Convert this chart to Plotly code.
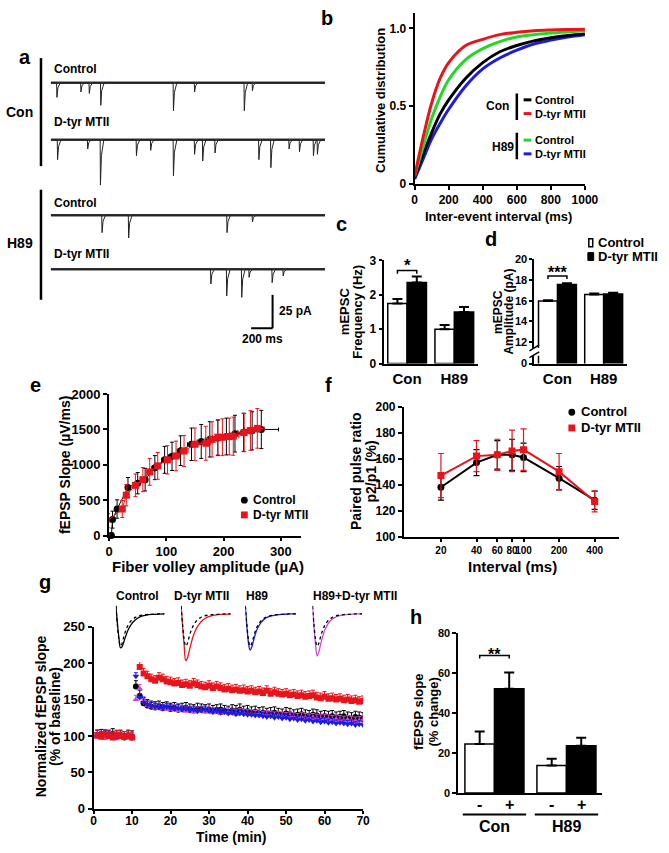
import plotly.graph_objects as go

W, H = 669, 853
FONT = "Liberation Sans, Arial, sans-serif"
RED = "#e8141b"
GREEN = "#22d822"
BLUE = "#1c1ce0"
PINK = "#d244d8"

# ---- a: example mEPSC traces (event time in ms, amplitude in pA)
trace_ms = 2560
con_ctrl_t = [55, 279, 357, 464, 1142, 1339, 1803, 1879]
con_ctrl_amp = [11, 7, 8, 17, 21, 7, 21, 6]
con_dtyr_t = [61, 342, 461, 797, 930, 1142, 1339, 1415, 1530, 1939, 2051, 2221, 2318, 2448, 2485]
con_dtyr_amp = [15, 7, 34, 12, 8, 27, 11, 16, 10, 15, 21, 7, 9, 12, 11]
h89_ctrl_t = [476, 724, 1642, 1879]
h89_ctrl_amp = [13, 17, 13, 5]
h89_dtyr_t = [1491, 1639, 1779, 1848, 2063, 2166]
h89_dtyr_amp = [11, 20, 21, 6, 10, 5]

# ---- b: cumulative distribution of inter-event interval
iei_ms = [0, 50, 100, 150, 200, 300, 400, 500, 600, 700, 800, 900, 1000]
cdf_con_ctrl = [0.04, 0.19, 0.33, 0.45, 0.54, 0.68, 0.78, 0.85, 0.89, 0.92, 0.94, 0.955, 0.965]
cdf_con_dtyr = [0.05, 0.30, 0.52, 0.68, 0.78, 0.89, 0.93, 0.96, 0.975, 0.985, 0.99, 0.993, 0.995]
cdf_h89_ctrl = [0.05, 0.24, 0.42, 0.56, 0.67, 0.80, 0.87, 0.915, 0.945, 0.96, 0.97, 0.978, 0.985]
cdf_h89_dtyr = [0.03, 0.16, 0.29, 0.39, 0.48, 0.63, 0.74, 0.81, 0.86, 0.90, 0.925, 0.945, 0.96]

# ---- c, d: mEPSC frequency and amplitude
groups = ["Con", "H89"]
freq_ctrl = [1.75, 1.0]
freq_ctrl_err = [0.13, 0.12]
freq_dtyr = [2.36, 1.5]
freq_dtyr_err = [0.17, 0.15]
amp_ctrl = [15.97, 16.6]
amp_ctrl_err = [0.08, 0.1]
amp_dtyr = [17.57, 16.65]
amp_dtyr_err = [0.12, 0.12]

# ---- e: input-output
ctrl_fv = [-6, 4, 6, 14, 33, 50, 63, 80, 97, 110, 125, 144, 161, 176, 190, 205, 220, 235, 250, 266]
ctrl_slope = [90, 0, 225, 375, 680, 740, 790, 960, 1070, 1120, 1200, 1290, 1330, 1360, 1380, 1400, 1440, 1460, 1480, 1500]
ctrl_slope_err = [60, 40, 120, 130, 140, 150, 160, 170, 190, 200, 210, 230, 240, 250, 250, 260, 260, 270, 270, 270]
ctrl_fv_err = [2, 2, 2, 3, 3, 4, 4, 5, 5, 6, 6, 7, 7, 8, 8, 9, 9, 10, 10, 30]
dtyr_fv = [-2, -2, 23, 30, 46, 59, 71, 85, 102, 117, 131, 150, 169, 180, 190, 198, 210, 217, 236, 247, 259]
dtyr_slope = [0, 210, 375, 570, 710, 790, 900, 985, 1070, 1125, 1195, 1290, 1305, 1360, 1390, 1390, 1400, 1405, 1455, 1485, 1515]
dtyr_slope_err = [40, 100, 120, 150, 160, 170, 190, 190, 200, 210, 220, 230, 240, 250, 250, 260, 260, 270, 270, 280, 280]
dtyr_fv_err = [2, 2, 3, 3, 4, 4, 5, 5, 6, 6, 7, 7, 8, 8, 9, 9, 10, 10, 11, 11, 12]

# ---- f: paired pulse ratio
ppr_interval = [20, 40, 60, 80, 100, 200, 400]
ppr_ctrl = [138, 157, 163, 163, 161, 145, 128]
ppr_ctrl_err = [10, 10, 11, 12, 11, 9, 7]
ppr_dtyr = [147, 162, 163, 166, 167, 150, 127]
ppr_dtyr_err = [17, 12, 12, 16, 16, 14, 8]

# ---- g: LTP time course (1 point per min)
ltp_min = list(range(1, 71))
ltp_ctrl = [100, 101, 99, 100, 102, 99, 100, 98, 100, 99,
            168, 155, 145, 142, 140, 139, 140, 138, 139, 137,
            138, 136, 137, 138, 136, 135, 137, 136, 135, 136,
            134, 135, 136, 134, 133, 135, 134, 136, 133, 134,
            132, 133, 131, 132, 130, 131, 132, 130, 129, 131,
            130, 128, 129, 130, 128, 127, 129, 128, 126, 127,
            126, 127, 125, 126, 127, 125, 124, 126, 125, 124]
ltp_dtyr = [101, 99, 102, 100, 98, 101, 100, 99, 100, 98,
            217, 195, 186, 182, 178, 176, 180, 178, 175, 174,
            172, 173, 170, 171, 169, 172, 170, 168, 167, 169,
            166, 168, 166, 164, 165, 163, 164, 162, 163, 161,
            162, 160, 161, 159, 162, 158, 160, 158, 157, 158,
            156, 157, 155, 156, 154, 155, 156, 153, 152, 154,
            151, 152, 150, 151, 149, 150, 148, 149, 147, 148]
ltp_h89 = [103, 101, 102, 100, 101, 99, 100, 98, 99, 97,
           182, 153, 146, 143, 141, 140, 139, 138, 140, 138,
           137, 138, 136, 137, 135, 136, 134, 135, 136, 134,
           133, 134, 132, 133, 131, 132, 130, 131, 130, 129,
           129, 128, 128, 127, 126, 127, 125, 126, 124, 125,
           123, 124, 122, 123, 121, 122, 120, 121, 119, 120,
           118, 119, 117, 118, 117, 116, 117, 115, 116, 115]
ltp_h89_dtyr = [98, 99, 97, 98, 99, 96, 98, 97, 98, 97,
                150, 165, 148, 142, 140, 138, 139, 137, 138, 136,
                137, 135, 136, 134, 135, 133, 134, 135, 133, 134,
                132, 133, 131, 132, 133, 131, 130, 132, 131, 130,
                130, 129, 130, 128, 129, 128, 127, 128, 127, 126,
                127, 126, 125, 126, 125, 124, 125, 124, 123, 124,
                123, 122, 123, 122, 121, 122, 121, 120, 121, 122]
ltp_err = {"ctrl": 8, "dtyr": 7, "h89": 5, "h89d": 6}

# fEPSP example waveforms (ms, normalised)
wave_t = [0, 1, 2, 3, 4, 5, 6, 7, 8, 10, 12, 14, 17, 20, 24, 28, 32]
wave_base = [0.25, -0.35, -0.8, -1.0, -0.92, -0.75, -0.58, -0.45, -0.35, -0.21, -0.13, -0.08, -0.04, -0.02, -0.01, 0, 0]
wave_ctrl = [0.25, -0.3, -0.75, -1.05, -1.02, -0.9, -0.75, -0.62, -0.5, -0.33, -0.22, -0.14, -0.07, -0.035, -0.015, -0.005, 0]
wave_dtyr = [0.25, -0.4, -1.0, -1.45, -1.38, -1.2, -1.0, -0.82, -0.66, -0.44, -0.29, -0.19, -0.1, -0.05, -0.02, -0.01, 0]
wave_h89 = [0.25, -0.4, -0.9, -1.12, -1.04, -0.86, -0.68, -0.53, -0.42, -0.26, -0.16, -0.1, -0.05, -0.025, -0.01, 0, 0]
wave_h89d = [0.25, -0.4, -0.95, -1.3, -1.2, -1.0, -0.8, -0.63, -0.5, -0.31, -0.19, -0.12, -0.06, -0.03, -0.01, 0, 0]

# ---- h: LTP magnitude
ltp_ctrl_pct = [24.5, 13.7]
ltp_ctrl_pct_err = [6.2, 3.4]
ltp_dtyr_pct = [52, 23.6]
ltp_dtyr_pct_err = [8.2, 4.0]


def xd(x0, x1):
    return [x0 / W, x1 / W]


def yd(top, bottom):
    return [1 - bottom / H, 1 - top / H]


def bold(size=12):
    return dict(family=FONT, size=size, color="black", weight="bold")


def ann(text, x, y, size=12, angle=0, xanchor="center"):
    return dict(text=text, x=x / W, y=1 - y / H, xref="paper", yref="paper",
                showarrow=False, textangle=angle, xanchor=xanchor, yanchor="middle",
                font=bold(size))


def dann(text, x, y, xa, ya, size=16):
    return dict(text=text, x=x, y=y, xref=xa, yref=ya, showarrow=False,
                xanchor="center", yanchor="middle", font=bold(size))


def pline(x0, y0, x1, y1, width=2, color="black"):
    return dict(type="line", xref="paper", yref="paper", x0=x0 / W, y0=1 - y0 / H,
                x1=x1 / W, y1=1 - y1 / H, line=dict(color=color, width=width))


def axis(domain, rng, anchor, size=12, **kw):
    d = dict(domain=domain, range=rng, anchor=anchor, showline=True, linecolor="black",
             linewidth=2, ticks="outside", ticklen=4, tickwidth=2, tickcolor="black",
             showgrid=False, zeroline=False, tickfont=bold(size), fixedrange=True, tickangle=0)
    d.update(kw)
    return d


def hidden(domain, rng, anchor):
    return dict(domain=domain, range=rng, anchor=anchor, visible=False, fixedrange=True)


def mepsc_trace(times, amps):
    xs, ys = [0], [0]
    for t, a in zip(times, amps):
        xs += [t, t + 3, t + 12, t + 35]
        ys += [0, -a, -a * 0.35, 0]
    xs.append(trace_ms)
    ys.append(0)
    return xs, ys


fig = go.Figure()
layout = {}
shapes = []
annotations = []

# ---------------- a
a_base_px = [77, 135, 212, 267]
a_sets = [(con_ctrl_t, con_ctrl_amp), (con_dtyr_t, con_dtyr_amp),
          (h89_ctrl_t, h89_ctrl_amp), (h89_dtyr_t, h89_dtyr_amp)]
pa_per_px = 25 / 34
ms_per_px = trace_ms / (330 - 48)
for i, ((tt, aa), base) in enumerate(zip(a_sets, a_base_px)):
    n = 8 + i
    layout[f"xaxis{n}"] = hidden(xd(48, 330), [0, trace_ms], f"y{n}")
    layout[f"yaxis{n}"] = hidden(yd(base - 8 / pa_per_px, base + 40 / pa_per_px), [-40, 8], f"x{n}")
    fig.add_trace(go.Scatter(x=[0, trace_ms], y=[0, 0], mode="lines",
                             line=dict(color="#333", width=2.5),
                             xaxis=f"x{n}", yaxis=f"y{n}", showlegend=False))
    xs, ys = mepsc_trace(tt, aa)
    fig.add_trace(go.Scatter(x=xs, y=ys, mode="lines", line=dict(color="#222", width=1),
                             xaxis=f"x{n}", yaxis=f"y{n}", showlegend=False))

annotations += [ann("a", 22, 51, 20), ann("Con", 16, 107, 14), ann("H89", 16, 240, 14),
                ann("Control", 49, 63, 12, xanchor="left"),
                ann("D-tyr MTII", 49, 117, 12, xanchor="left"),
                ann("Control", 49, 200, 12, xanchor="left"),
                ann("D-tyr MTII", 49, 251, 12, xanchor="left"),
                ann("25 pA", 281, 309, 12, xanchor="left"),
                ann("200 ms", 266, 338, 12)]
shapes += [pline(38, 52, 38, 162, 2.5), pline(38, 186, 38, 298, 2.5)]
sb_x, sb_y = 276, 327
shapes += [pline(sb_x, sb_y, sb_x, sb_y - 25 / pa_per_px, 2),
           pline(sb_x - 200 / ms_per_px, sb_y, sb_x, sb_y, 2)]

# ---------------- b
for y, c in [(cdf_h89_dtyr, BLUE), (cdf_con_ctrl, "black"), (cdf_h89_ctrl, GREEN), (cdf_con_dtyr, RED)]:
    fig.add_trace(go.Scatter(x=iei_ms, y=y, mode="lines", line=dict(color=c, width=3, shape="spline"),
                             xaxis="x", yaxis="y", showlegend=False))
layout["xaxis"] = axis(xd(422, 597), [0, 1000], "y", 12, tickvals=[0, 200, 400, 600, 800, 1000])
layout["yaxis"] = axis(yd(6, 180), [0, 1.1], "x", 12, tickvals=[0, 0.5, 1.0], ticktext=["0", "0.5", "1.0"])
annotations += [ann("b", 332, 11, 20), ann("Cumulative distribution", 387, 95, 13, -90),
                ann("Inter-event interval (ms)", 508, 213, 13),
                ann("Con", 507, 101, 12), ann("H89", 513, 142, 12)]
shapes += [pline(527, 88, 527, 115, 2.5), pline(527, 128, 527, 155, 2.5)]
for y, c, lab in [(94.5, "black", "Control"), (108.5, RED, "D-tyr MTII"),
                  (135.5, GREEN, "Control"), (149.5, BLUE, "D-tyr MTII")]:
    shapes.append(pline(534, y, 542, y, 3, c))
    annotations.append(ann(lab, 544, y, 11, xanchor="left"))

# ---------------- c, d, h bar panels
BARGAP = 0.18
off = (1 - BARGAP) / 4


def bar_pair(xa, ya, y0, e0, y1, e1):
    for y, e, fill in [(y0, e0, "white"), (y1, e1, "black")]:
        fig.add_trace(go.Bar(x=groups, y=y, marker=dict(color=fill, line=dict(color="black", width=1.5)),
                             error_y=dict(type="data", array=e, arrayminus=[0] * len(e), symmetric=False,
                                          color="black", thickness=2, width=5),
                             xaxis=xa, yaxis=ya, showlegend=False))


def bracket(xa, ya, y, drop):
    return dict(type="path", xref=xa, yref=ya,
                path=f"M {-off},{y - drop} L {-off},{y} L {off},{y} L {off},{y - drop}",
                line=dict(color="black", width=1.5))


bar_pair("x2", "y2", freq_ctrl, freq_ctrl_err, freq_dtyr, freq_dtyr_err)
layout["xaxis2"] = axis(xd(390, 487), [-0.5, 1.5], "y2", 15, type="category", ticks="")
layout["yaxis2"] = axis(yd(258, 363), [0, 3], "x2", 12, dtick=1, ticklen=3)
shapes.append(bracket("x2", "y2", 2.71, 0.1))
annotations += [ann("c", 347, 221, 20), ann("mEPSC", 350, 310, 13, -90), ann("Frequency (Hz)", 363, 310, 13, -90),
                dann("*", 0, 2.84, "x2", "y2", 17)]

bar_pair("x3", "y3", amp_ctrl, amp_ctrl_err, amp_dtyr, amp_dtyr_err)
layout["xaxis3"] = axis(xd(545, 640), [-0.5, 1.5], "y3", 15, type="category", ticks="")
layout["yaxis3"] = axis(yd(257, 363), [9.9, 20], "x3", 11, ticklen=3, tickvals=[9.9, 12, 14, 16, 18, 20],
                        ticktext=["0", "12", "14", "16", "18", "20"])
shapes.append(bracket("x3", "y3", 18.4, 0.3))
shapes += [dict(type="rect", xref="paper", yref="paper", x0=540 / W, x1=551 / W, y0=1 - 355 / H, y1=1 - 347 / H,
                fillcolor="white", line=dict(width=0)),
           pline(540, 350, 550, 344, 1.5), pline(540, 357, 550, 351, 1.5)]
annotations += [ann("d", 500, 236, 20), ann("mEPSC", 507, 310, 12, -90), ann("Amplitude (pA)", 519, 310, 12, -90),
                dann("***", 0, 18.75, "x3", "y3", 16),
                ann("Control", 608, 240, 13, xanchor="left"), ann("D-tyr MTII", 608, 254, 13, xanchor="left")]
shapes += [dict(type="rect", xref="paper", yref="paper", x0=601 / W, x1=605 / W, y0=1 - 244 / H, y1=1 - 236 / H,
                fillcolor="white", line=dict(color="black", width=1.5)),
           dict(type="rect", xref="paper", yref="paper", x0=600 / W, x1=606 / W, y0=1 - 258 / H, y1=1 - 250 / H,
                fillcolor="black", line=dict(color="black", width=1))]

bar_pair("x7", "y7", ltp_ctrl_pct, ltp_ctrl_pct_err, ltp_dtyr_pct, ltp_dtyr_pct_err)
layout["xaxis7"] = axis(xd(467, 615), [-0.5, 1.5], "y7", 12, type="category", ticks="", showticklabels=False)
layout["yaxis7"] = axis(yd(637, 800), [0, 80], "x7", 11, dtick=20)
shapes.append(bracket("x7", "y7", 68.6, 1.5))
annotations += [ann("h", 423, 621, 20), ann("fEPSP slope", 426, 718, 13, -90), ann("(% change)", 441, 718, 13, -90),
                dann("**", 0, 69.3, "x7", "y7", 16)]
for gi, g in enumerate(groups):
    for sgn, s in [(-1, "-"), (1, "+")]:
        annotations.append(dict(text=s, x=gi + sgn * off, y=1 - 812 / H, xref="x7", yref="paper",
                                showarrow=False, xanchor="center", yanchor="middle", font=bold(16)))
    shapes.append(dict(type="line", xref="x7", yref="paper", x0=gi - 0.44, x1=gi + 0.44,
                       y0=1 - 822 / H, y1=1 - 822 / H, line=dict(color="black", width=2)))
    annotations.append(dict(text=g, x=gi, y=1 - 834 / H, xref="x7", yref="paper",
                            showarrow=False, xanchor="center", yanchor="middle", font=bold(16)))

# ---------------- e
for xv, yv, ye, xe, c, sym in [(ctrl_fv, ctrl_slope, ctrl_slope_err, ctrl_fv_err, "black", "circle"),
                               (dtyr_fv, dtyr_slope, dtyr_slope_err, dtyr_fv_err, RED, "square")]:
    fig.add_trace(go.Scatter(x=xv, y=yv, mode="lines+markers", cliponaxis=False,
                             line=dict(color=c, width=1),
                             marker=dict(symbol=sym, size=7, color=c),
                             error_y=dict(type="data", array=ye, color=c, thickness=1, width=2),
                             error_x=dict(type="data", array=xe, color=c, thickness=1, width=2),
                             xaxis="x4", yaxis="y4", showlegend=False))
layout["xaxis4"] = axis(xd(108, 305), [0, 335], "y4", 13, tickvals=[0, 100, 200, 300], ticklen=3)
layout["yaxis4"] = axis(yd(394, 538), [0, 2000], "x4", 13, dtick=500)
annotations += [ann("e", 32, 385, 20), ann("fEPSP Slope (µV/ms)", 63, 466, 14, -90),
                ann("Fiber volley amplitude (µA)", 210, 570, 15),
                ann("Control", 254, 502, 12, xanchor="left"), ann("D-tyr MTII", 254, 517, 12, xanchor="left")]
shapes += [dict(type="circle", xref="paper", yref="paper", x0=243.5 / W, x1=250.5 / W, y0=1 - 505.5 / H,
                y1=1 - 498.5 / H, fillcolor="black", line=dict(width=0)),
           dict(type="rect", xref="paper", yref="paper", x0=243.5 / W, x1=250.5 / W, y0=1 - 520.5 / H,
                y1=1 - 513.5 / H, fillcolor=RED, line=dict(width=0))]

# ---------------- f
for yv, ye, c, sym in [(ppr_ctrl, ppr_ctrl_err, "black", "circle"), (ppr_dtyr, ppr_dtyr_err, RED, "square")]:
    fig.add_trace(go.Scatter(x=ppr_interval, y=yv, mode="lines+markers",
                             line=dict(color=c, width=2), marker=dict(symbol=sym, size=7, color=c),
                             error_y=dict(type="data", array=ye, color=c, thickness=1.2, width=3),
                             xaxis="x5", yaxis="y5", showlegend=False))
layout["xaxis5"] = axis(xd(411, 632), [0.988, 2.808], "y5", 10, type="log", ticklen=3,
                        tickvals=ppr_interval, ticktext=[str(v) for v in ppr_interval])
layout["yaxis5"] = axis(yd(407, 539), [100, 200], "x5", 12, dtick=20)
annotations += [ann("f", 333, 385, 20), ann("Paired pulse ratio", 361, 473, 14, -90),
                ann("p2/p1 (%)", 377, 473, 14, -90), ann("Interval (ms)", 523, 570, 15),
                ann("Control", 591, 412, 13, xanchor="left"), ann("D-tyr MTII", 591, 428, 13, xanchor="left")]
shapes += [dict(type="circle", xref="paper", yref="paper", x0=580 / W, x1=587 / W, y0=1 - 416 / H,
                y1=1 - 409 / H, fillcolor="black", line=dict(width=0)),
           dict(type="rect", xref="paper", yref="paper", x0=580 / W, x1=587 / W, y0=1 - 432 / H,
                y1=1 - 425 / H, fillcolor=RED, line=dict(width=0))]

# ---------------- g
for yv, key, c, sym in [(ltp_ctrl, "ctrl", "black", "circle"), (ltp_h89_dtyr, "h89d", PINK, "triangle-up"),
                        (ltp_h89, "h89", BLUE, "triangle-down"), (ltp_dtyr, "dtyr", RED, "square")]:
    fig.add_trace(go.Scatter(x=ltp_min, y=yv, mode="markers",
                             marker=dict(symbol=sym, size=6, color=c),
                             error_y=dict(type="data", array=[ltp_err[key]] * len(yv),
                                          arrayminus=[0] * len(yv), symmetric=False,
                                          color=c, thickness=1, width=2),
                             xaxis="x6", yaxis="y6", showlegend=False))
layout["xaxis6"] = axis(xd(92, 369), [0, 70], "y6", 12, dtick=10, ticklen=3, ticklabelstandoff=-3)
layout["yaxis6"] = axis(yd(631, 816), [0, 250], "x6", 13, dtick=50)
annotations += [ann("g", 42, 585, 20), ann("Normalized fEPSP slope", 38, 722, 14, -90),
                ann("(% of baseline)", 53, 722, 14, -90), ann("Time (min)", 234, 845, 14)]

insets = [("Control", 113, (115, 165), wave_ctrl, "black"),
          ("D-tyr MTII", 173, (182, 233), wave_dtyr, RED),
          ("H89", 247, (248, 300), wave_h89, BLUE),
          ("H89+D-tyr MTII", 315, (317, 368), wave_h89d, PINK)]
for i, (lab, lx, (x0, x1), post, c) in enumerate(insets):
    n = 12 + i
    layout[f"xaxis{n}"] = hidden(xd(x0, x1), [0, 32], f"y{n}")
    layout[f"yaxis{n}"] = hidden(yd(608, 667), [-1.5, 0.3], f"x{n}")
    fig.add_trace(go.Scatter(x=wave_t, y=post, mode="lines", line=dict(color=c, width=1.3, shape="spline"),
                             xaxis=f"x{n}", yaxis=f"y{n}", showlegend=False))
    fig.add_trace(go.Scatter(x=wave_t, y=wave_base, mode="lines",
                             line=dict(color="black", width=1.3, dash="dot", shape="spline"),
                             xaxis=f"x{n}", yaxis=f"y{n}", showlegend=False))
    annotations.append(ann(lab, lx, 600, 12, xanchor="left"))

fig.update_layout(
    width=W, height=H, autosize=False,
    margin=dict(l=0, r=0, t=0, b=0),
    paper_bgcolor="white", plot_bgcolor="white",
    font=bold(12),
    barmode="group", bargap=BARGAP, bargroupgap=0,
    showlegend=False,
    shapes=shapes, annotations=annotations,
    **layout,
)

# page body has a default margin; remove it so the figure sits at the window origin
page_fix = ("document.body.style.margin='0';document.body.style.overflow='hidden';"
            "document.documentElement.style.overflow='hidden';")
fig.write_html("out.html", config={"displayModeBar": False, "responsive": False},
               post_script=page_fix)
